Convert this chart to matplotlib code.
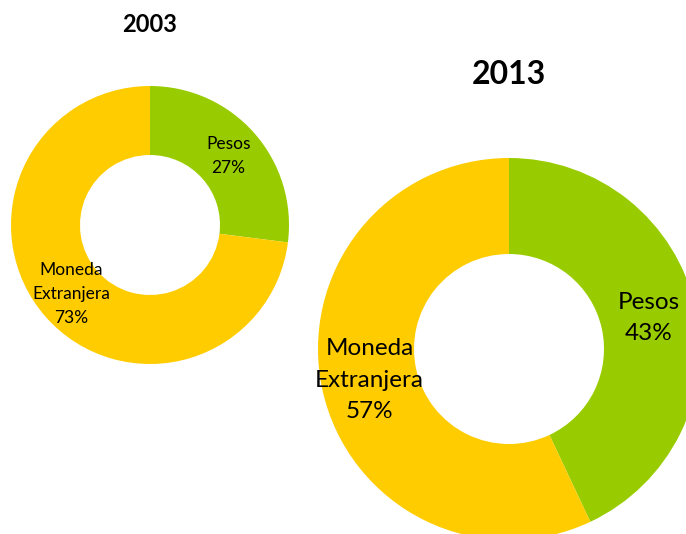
import matplotlib.pyplot as plt

plt.rcParams['font.family'] = ['Lato', 'DejaVu Sans']

categorias = ['Pesos', 'Moneda\nExtranjera']
valores_2003 = [27, 73]
valores_2013 = [43, 57]
colores = ['#99CC00', '#FFCC00']

fig = plt.figure(figsize=(6.86, 5.34), dpi=100)
ax = fig.add_axes([0, 0, 1, 1])


def dona(valores, centro, r_ext, r_int, fs):
    etiquetas = [c + '\n' + str(v) + '%' for c, v in zip(categorias, valores)]
    _, textos = ax.pie(valores, labels=etiquetas, colors=colores, startangle=90,
                       counterclock=False, center=centro, radius=r_ext, frame=True,
                       labeldistance=(r_ext + r_int) / 2 / r_ext,
                       wedgeprops=dict(width=r_ext - r_int, linewidth=0),
                       textprops=dict(fontsize=fs, color='black', linespacing=1.6))
    for t in textos:
        t.set_ha('center')
        t.set_va('center')


# 2003 (pequeño)
dona(valores_2003, (150, 534 - 225), 139, 70, 12.5)
ax.text(150, 534 - 25, '2003', ha='center', va='center', fontsize=17, fontweight='bold')

# 2013 (grande)
dona(valores_2013, (509, 534 - 349), 191, 95, 17.5)
ax.text(509, 534 - 75, '2013', ha='center', va='center', fontsize=23, fontweight='bold')

ax.set_xlim(0, 686)
ax.set_ylim(0, 534)
ax.set_aspect('equal')
ax.axis('off')

fig.savefig('out.png', dpi=100)
